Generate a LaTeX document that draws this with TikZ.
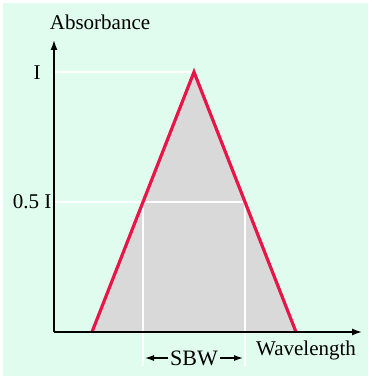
\documentclass[tikz,border=0pt]{standalone}
\usepackage{fontspec}
\setmainfont{Liberation Serif}
\usetikzlibrary{arrows.meta,calc,positioning}
\definecolor{mintbg}{RGB}{224,252,238}
\definecolor{peakred}{RGB}{232,22,72}
\definecolor{areagray}{RGB}{217,217,217}
\tikzset{
    axisarrow/.style={
        -{Latex[length=5pt,width=3.5pt]},
        line width=0.8pt,
        draw=black
    },
    guideline/.style={
        draw=white,
        line width=0.6pt
    },
    peakline/.style={
        draw=peakred,
        line width=1.6pt,
        line join=miter
    },
    widtharrow/.style={
        -{Latex[length=4.5pt,width=3pt]},
        line width=0.6pt
    },
    label/.style={
        font=\fontsize{10.5}{12}\selectfont,
        inner sep=1pt
    }
}

\begin{document}
\begin{tikzpicture}[x=0.5pt, y=-0.5pt]
    % Background
    \fill[white] (0,0) rectangle (371,379);
    \fill[mintbg] (3,3) rectangle (368,376);
    \useasboundingbox (0,0) rectangle (371,379);

    % Key points
    \coordinate (origin) at (54,332);
    \coordinate (ytip)   at (54,40);
    \coordinate (xtip)   at (362,332);
    \coordinate (left)   at (92,332);
    \coordinate (peak)   at (194,72);
    \coordinate (right)  at (296,332);
    \coordinate (halfL)  at (143,202);
    \coordinate (halfR)  at (245,202);
    \coordinate (halfY)  at (54,202);
    \coordinate (peakY)  at (54,72);

    % Area under the peak
    \fill[areagray] (left) -- (peak) -- (right) -- cycle;

    % Guide lines
    \draw[guideline] (peakY) -- (peak);
    \draw[guideline] (halfY) -- (halfR);
    \draw[guideline] (halfL) -- (halfL |- 0,366);
    \draw[guideline] (halfR) -- (halfR |- 0,366);

    % Peak
    \draw[peakline] (left) -- (peak) -- (right);

    % Axes
    \draw[axisarrow] (origin) -- (ytip);
    \draw[axisarrow] (origin) -- (xtip);

    % Labels
    \node[label] (absorbance) at (100,22) {Absorbance};
    \node[label] (wavelength) at (306,350) {Wavelength};
    \node[label] (fullmark) at (37,73) {I};
    \node[label] (halfmark) at (32,202) {0.5 I};
    \node[label, font=\fontsize{11}{12}\selectfont] (sbw) at (194,358) {SBW};

    % Spectral bandwidth
    \draw[widtharrow] (sbw.west) -- ($(sbw.west -| halfL)+(2,0)$);
    \draw[widtharrow] (sbw.east) -- ($(sbw.east -| halfR)+(-2,0)$);
\end{tikzpicture}
\end{document}
